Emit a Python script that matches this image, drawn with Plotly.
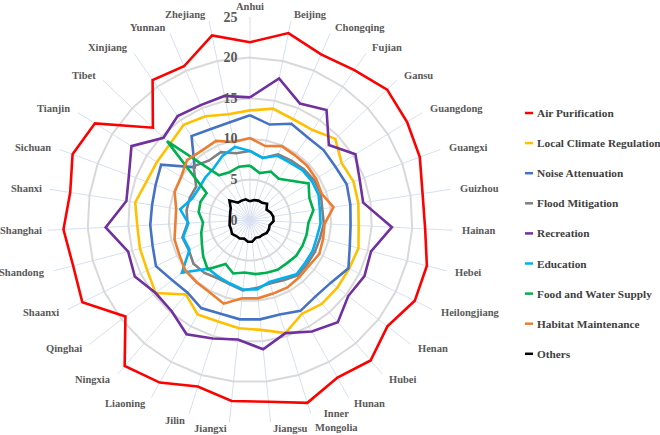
import math
import plotly.graph_objects as go

provinces = ["Anhui", "Beijing", "Chongqing", "Fujian", "Gansu", "Guangdong", "Guangxi",
             "Guizhou", "Hainan", "Hebei", "Heilongjiang", "Henan", "Hubei", "Hunan",
             "Inner Mongolia", "Jiangsu", "Jiangxi", "Jilin", "Liaoning", "Ningxia",
             "Qinghai", "Shaanxi", "Shandong", "Shanghai", "Shanxi", "Sichuan", "Tianjin",
             "Tibet", "Xinjiang", "Yunnan", "Zhejiang"]
province_labels = [p.replace("Inner Mongolia", "Inner<br>Mongolia") for p in provinces]

air_purification = [21.9, 23.5, 22.2, 22.5, 23.3, 22.8, 22.3, 21.5, 21.6, 22.5, 22.6, 21.4, 22.8,
                    22.2, 23.6, 22.5, 22.4, 21.5, 22.9, 23.7, 19.4, 23.0, 22.5, 23.0, 22.4, 23.3,
                    22.5, 16.5, 21.0, 20.6, 23.2]
local_climate = [13.5, 14.0, 13.5, 13.5, 14.5, 13.3, 13.6, 13.5, 13.4, 13.8, 13.6, 13.6, 13.6,
                 13.2, 14.6, 13.6, 13.4, 13.1, 13.3, 12.1, 14.7, 14.1, 14.0, 13.9, 14.3, 13.6,
                 13.5, 13.6, 14.3, 13.9, 13.3]
noise_attenuation = [12.9, 12.0, 12.9, 12.4, 12.5, 12.4, 12.7, 12.5, 12.4, 12.7, 13.5, 12.6, 12.4,
                     12.8, 12.2, 12.3, 12.3, 12.1, 12.4, 11.8, 12.1, 12.9, 12.4, 12.3, 12.2, 12.4,
                     12.9, 9.4, 12.6, 12.2, 12.3]
flood_mitigation = [8.5, 7.8, 8.8, 8.9, 9.1, 9.3, 9.3, 9.0, 9.1, 8.9, 8.9, 8.9, 9.0, 8.5, 8.2,
                    8.4, 8.7, 8.3, 8.2, 8.6, 8.8, 8.4, 8.6, 7.7, 7.9, 7.9, 7.8, 9.6, 8.9, 9.1, 8.4]
recreation = [15.1, 17.8, 15.6, 16.5, 13.4, 15.3, 14.4, 14.1, 17.5, 15.4, 15.7, 15.3, 16.6, 15.7,
              14.6, 16.0, 14.8, 15.3, 16.1, 14.8, 14.7, 15.8, 15.5, 17.8, 15.4, 15.9, 17.2, 14.7,
              15.6, 15.4, 15.6]
education = [8.5, 7.8, 8.6, 8.6, 8.9, 9.0, 9.0, 8.7, 8.7, 8.5, 8.6, 8.6, 8.8, 8.2, 8.0, 8.6, 8.6,
             8.2, 8.0, 7.9, 10.6, 8.3, 8.5, 7.6, 8.7, 7.6, 7.4, 7.6, 7.8, 8.6, 9.2]
food_water = [6.7, 5.9, 6.5, 6.2, 7.0, 8.5, 7.8, 7.9, 7.2, 7.2, 7.2, 7.2, 7.0, 7.0, 6.8, 6.7, 6.5,
              6.9, 6.2, 8.0, 7.3, 6.6, 6.2, 5.8, 6.4, 6.5, 6.3, 14.1, 6.7, 6.4, 6.7]
habitat = [10.1, 9.3, 9.9, 9.7, 9.7, 9.6, 9.4, 10.4, 9.2, 9.3, 9.5, 9.2, 9.3, 9.5, 9.5, 9.7, 9.7,
           10.8, 10.2, 10.1, 10.1, 9.7, 9.6, 9.2, 9.2, 9.9, 10.0, 10.7, 10.4, 10.6, 9.8]
others = [2.3, 2.5, 2.6, 2.6, 2.9, 2.4, 2.7, 2.9, 2.9, 2.5, 2.6, 2.6, 2.4, 2.4, 2.3, 2.7, 2.7, 2.4,
          2.6, 2.6, 2.8, 2.6, 2.6, 2.5, 2.5, 2.6, 2.8, 3.5, 2.6, 2.6, 2.6]

series_names = ["Air Purification", "Local Climate Regulation", "Noise Attenuation",
                "Flood Mitigation", "Recreation", "Education", "Food and Water Supply",
                "Habitat Maintenance", "Others"]
series_values = [air_purification, local_climate, noise_attenuation, flood_mitigation,
                 recreation, education, food_water, habitat, others]
series_colors = ["#ff0000", "#ffc000", "#4472c4", "#808080", "#7030a0", "#00b0f0",
                 "#00b050", "#ed7d31", "#000000"]

W, H = 660, 435
CX, CY, R = 250, 220, 203  # polar centre and radius in pixels

fig = go.Figure()
for name, vals, color in zip(series_names, series_values, series_colors):
    fig.add_trace(go.Scatterpolar(
        r=vals + [vals[0]],
        theta=provinces + [provinces[0]],
        mode="lines",
        name=name,
        showlegend=False,
        line=dict(color=color, width=2.6),
    ))

annotations = []
# category labels around the radar (Excel-like placement)
n = len(provinces)
label_font = dict(family="Liberation Serif", size=10.5, color="#595959", weight="bold")
for k, lab in enumerate(province_labels):
    a = 2 * math.pi * k / n
    s, c = math.sin(a), math.cos(a)
    if k == 0:
        px, py = CX, 7
        xa, ya = "center", "middle"
    else:
        d = 210
        px, py = CX + d * s, CY - d * c
        xa = "left" if s > 0 else "right"
        ya = "middle"
        if xa == "right":
            px = max(px, 44)
    annotations.append(dict(
        x=px / W, y=1 - py / H, xref="paper", yref="paper",
        text=lab, showarrow=False, xanchor=xa, yanchor=ya, align="center",
        font=label_font,
    ))

# legend built from the series
shapes = []
leg_font = dict(family="Liberation Serif", size=11.3, color="#404040", weight="bold")
for i, (name, color) in enumerate(zip(series_names, series_colors)):
    ly = 113 + 30.1 * i
    shapes.append(dict(type="line", xref="paper", yref="paper",
                       x0=525 / W, x1=533 / W, y0=1 - ly / H, y1=1 - ly / H,
                       line=dict(color=color, width=2.5)))
    annotations.append(dict(
        x=535 / W, y=1 - ly / H, xref="paper", yref="paper",
        text=name, showarrow=False, xanchor="left", yanchor="middle",
        font=leg_font,
    ))

fig.update_layout(
    width=W, height=H,
    margin=dict(l=0, r=0, t=0, b=0),
    paper_bgcolor="white",
    plot_bgcolor="white",
    showlegend=False,
    annotations=annotations,
    shapes=shapes,
    polar=dict(
        domain=dict(x=[(CX - R) / W, (CX + R) / W], y=[1 - (CY + R) / H, 1 - (CY - R) / H]),
        bgcolor="white",
        gridshape="linear",
        angularaxis=dict(
            direction="clockwise", rotation=90,
            showline=False,
            gridcolor="#d6e0f0", gridwidth=1,
            ticks="",
            showticklabels=False,
        ),
        radialaxis=dict(
            range=[0, 25], dtick=5, angle=90,
            showline=False,
            ticks="outside", ticklen=7, tickcolor="rgba(0,0,0,0)",
            gridcolor="#d9d9d9", gridwidth=1.5,
            tickfont=dict(family="Liberation Serif", size=14, color="#595959", weight="bold"),
            side="counterclockwise",
            tickangle=90,
        ),
    ),
)

fig.write_html("out.html")
